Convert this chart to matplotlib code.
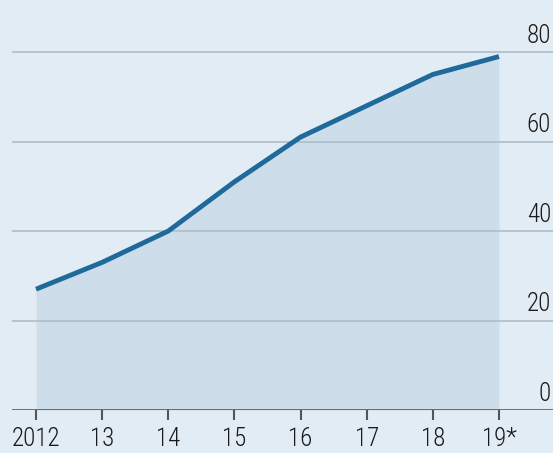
import numpy as np
import matplotlib.pyplot as plt

years = [2012, 2013, 2014, 2015, 2016, 2017, 2018, 2019]
values = [27, 33, 40, 51, 61, 68, 75, 79]
xlabels = ["2012", "13", "14", "15", "16", "17", "18", "19*"]
yticks = [20, 40, 60, 80]

bg = "#e2ecf4"
fonts = ["Roboto Condensed", "Archivo Narrow", "DejaVu Sans"]

fig = plt.figure(figsize=(5.53, 4.53), dpi=100)
fig.patch.set_facecolor(bg)
ax = fig.add_axes([12/553, 43/453, 541/553, 370/453])
ax.set_facecolor(bg)
ax.set_xlim(2011.637, 2019.817)
ax.set_ylim(0, 82.7)

ax.fill_between(years, values, 0, color="#cddeea", lw=0, zorder=1)
for y in yticks:
    ax.axhline(y, color="#b2c0c9", lw=1.3, zorder=2)
ax.plot(years, values, color="#1f6a9b", lw=3.5, solid_capstyle="butt", zorder=3)
ax.axhline(0, color="#4a4a4a", lw=1.8, zorder=4)

for y in [0] + yticks:
    ax.text(2019.79, y + 1.0, str(y), ha="right", va="bottom", fontsize=18,
            fontweight="light", color="#1a1a1a", family=fonts)

for s in ax.spines.values():
    s.set_visible(False)
ax.set_yticks([])
ax.set_xticks(years)
ax.set_xticklabels(xlabels, fontsize=18, fontweight="light", color="#1a1a1a", family=fonts)
ax.tick_params(axis="x", length=7, width=1.5, color="#555555", pad=5)

fig.savefig("out.png", dpi=100, facecolor=bg)
